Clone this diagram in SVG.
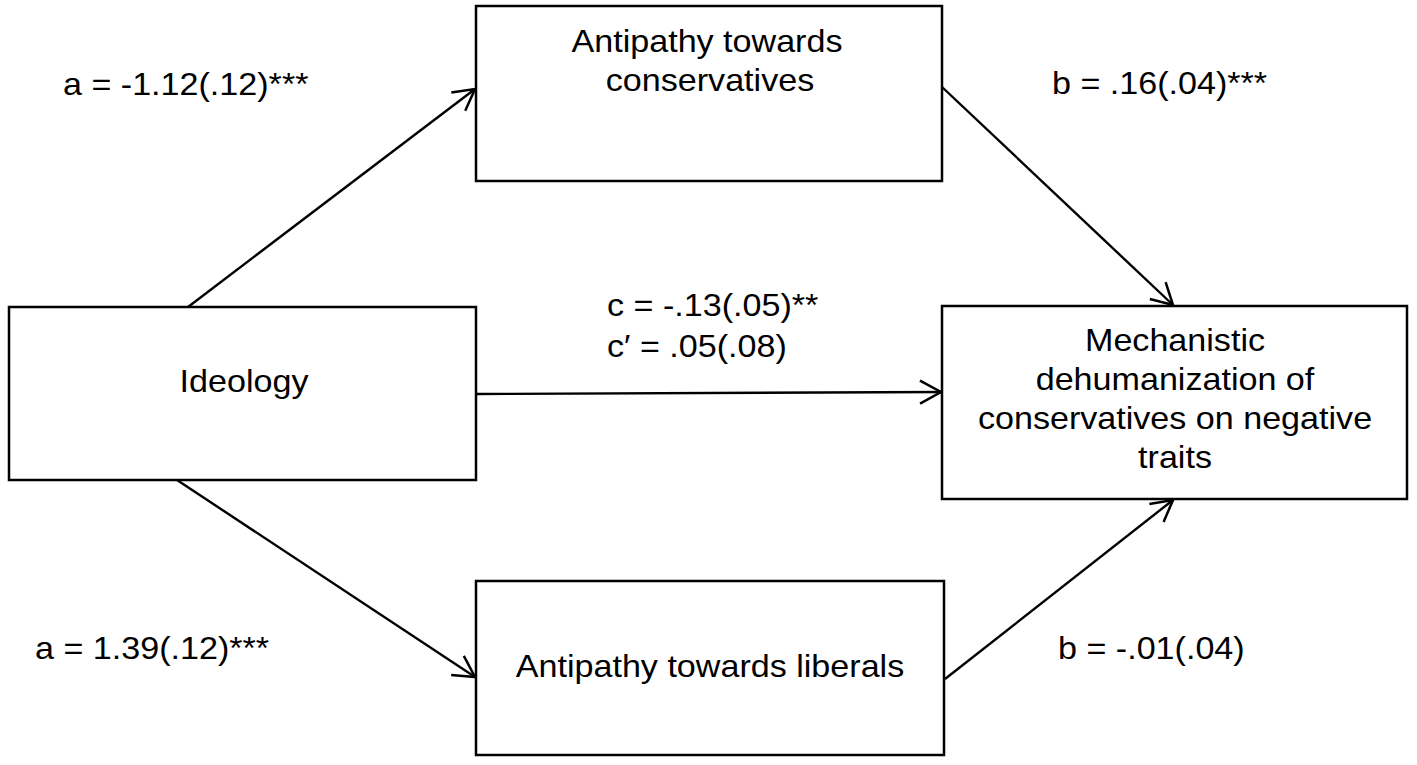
<svg xmlns="http://www.w3.org/2000/svg" width="1417" height="765" viewBox="0 0 1417 765">
<style>
.box{fill:#fff;stroke:#000;stroke-width:2.5}
.t{font-family:"Liberation Sans",Arial,Helvetica,sans-serif;font-size:31px;fill:#000}
.m{text-anchor:middle}
.c{fill:none;stroke:#000;stroke-width:2.4}
</style>
<defs>
<marker id="ah" markerUnits="userSpaceOnUse" markerWidth="40" markerHeight="40" viewBox="-30 -20 40 40" refX="0" refY="0" orient="auto" overflow="visible">
<path d="M-21,-11.5 L0,0 L-21,11.5" fill="none" stroke="#000" stroke-width="2.5" stroke-linejoin="miter"/>
</marker>
</defs>
<rect width="1417" height="765" fill="#fff"/>
<g id="connectors">
<line class="c" x1="188" y1="307" x2="475" y2="89" marker-end="url(#ah)"/>
<line class="c" x1="942" y1="87" x2="1173" y2="305" marker-end="url(#ah)"/>
<line class="c" x1="476" y1="394" x2="941" y2="392" marker-end="url(#ah)"/>
<line class="c" x1="177" y1="480" x2="475" y2="677" marker-end="url(#ah)"/>
<line class="c" x1="945" y1="679" x2="1173" y2="500" marker-end="url(#ah)"/>
</g>
<g id="node-antipathy-conservatives">
<rect class="box" x="476" y="6" width="466" height="175"/>
<text class="t m" transform="translate(707,52) scale(1.1,1)">Antipathy towards</text>
<text class="t m" transform="translate(710,91) scale(1.1,1)">conservatives</text>
</g>
<g id="node-ideology">
<rect class="box" x="9" y="307" width="467" height="173"/>
<text class="t m" transform="translate(244,392) scale(1.1,1)">Ideology</text>
</g>
<g id="node-outcome">
<rect class="box" x="942" y="306" width="465" height="193"/>
<text class="t m" transform="translate(1175,351) scale(1.1,1)">Mechanistic</text>
<text class="t m" transform="translate(1175,390) scale(1.1,1)">dehumanization of</text>
<text class="t m" transform="translate(1175,429) scale(1.1,1)">conservatives on negative</text>
<text class="t m" transform="translate(1175,468) scale(1.1,1)">traits</text>
</g>
<g id="node-antipathy-liberals">
<rect class="box" x="476" y="581" width="468" height="174"/>
<text class="t m" transform="translate(710,677) scale(1.1,1)">Antipathy towards liberals</text>
</g>
<g id="labels">
<text class="t" transform="translate(63,95) scale(1.1,1)">a = -1.12(.12)***</text>
<text class="t" transform="translate(1052,94) scale(1.1,1)">b = .16(.04)***</text>
<text class="t" transform="translate(607,316) scale(1.1,1)">c = -.13(.05)**</text>
<text class="t" transform="translate(607,357) scale(1.1,1)">c′ = .05(.08)</text>
<text class="t" transform="translate(35,659) scale(1.1,1)">a = 1.39(.12)***</text>
<text class="t" transform="translate(1058,659) scale(1.1,1)">b = -.01(.04)</text>
</g>
</svg>
